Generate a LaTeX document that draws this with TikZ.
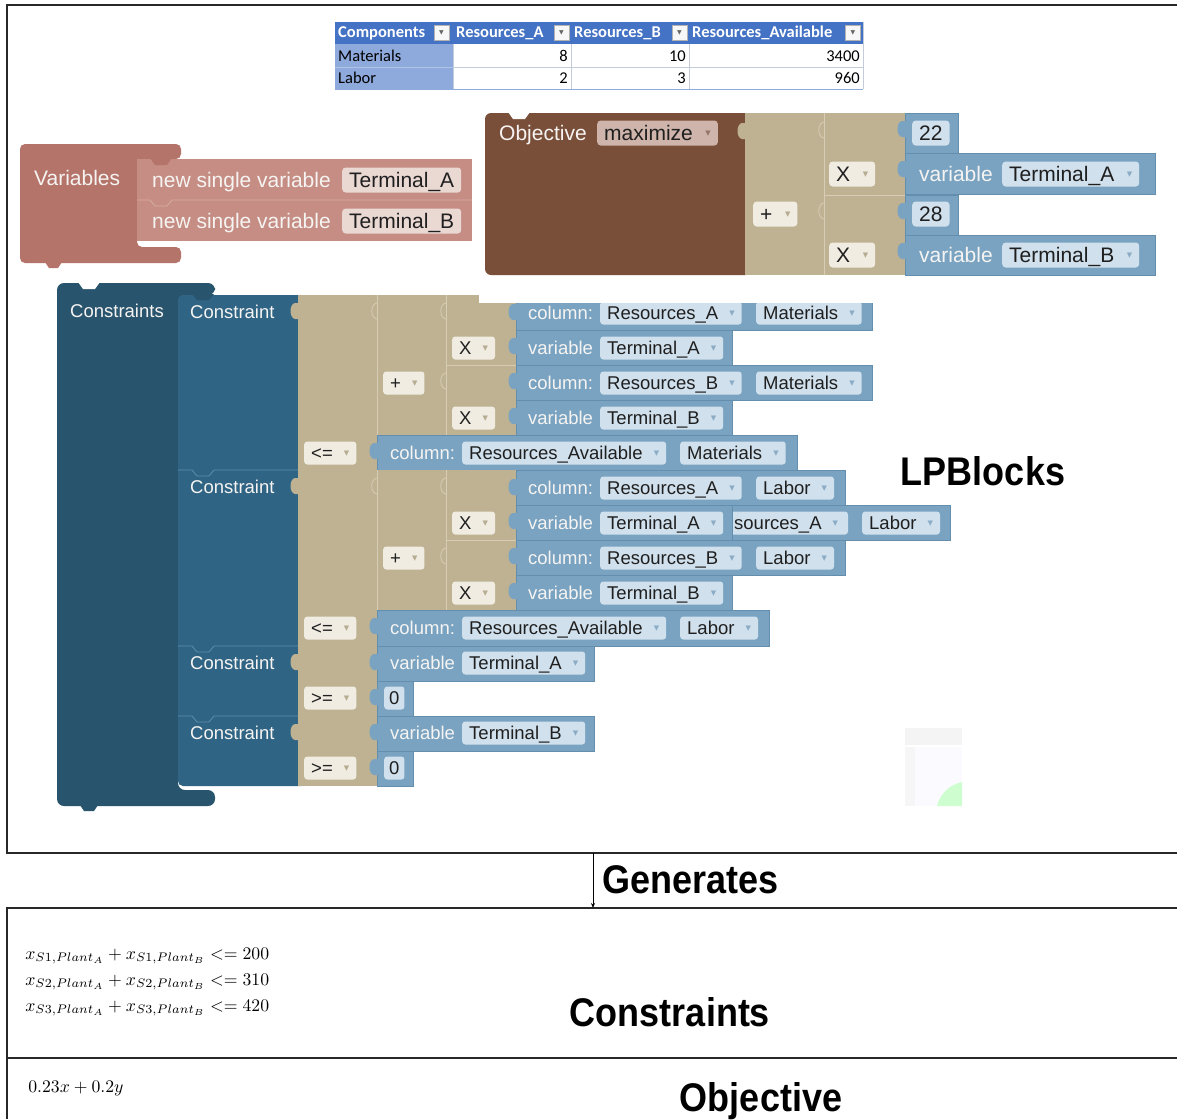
\documentclass[tikz,border=0pt]{standalone}
\usepackage[no-math]{fontspec}
\newfontfamily\blk{Liberation Sans}
\newfontfamily\tbl{Carlito}
\newfontfamily\sym{DejaVu Sans}
\usetikzlibrary{arrows.meta}

\definecolor{frameC}{RGB}{40,40,40}
\definecolor{hdrC}{RGB}{68,114,196}
\definecolor{fcolC}{RGB}{142,169,219}
\definecolor{gridC}{RGB}{196,204,218}
\definecolor{varOut}{RGB}{181,116,106}
\definecolor{varIn}{RGB}{197,141,131}
\definecolor{varFld}{RGB}{234,216,211}
\definecolor{varLn}{RGB}{214,172,164}
\definecolor{objC}{RGB}{122,79,58}
\definecolor{objFld}{RGB}{206,180,170}
\definecolor{tanC}{RGB}{190,178,146}
\definecolor{tanLn}{RGB}{214,205,180}
\definecolor{tanFld}{RGB}{240,236,226}
\definecolor{bluC}{RGB}{121,163,193}
\definecolor{bluEdge}{RGB}{100,142,174}
\definecolor{bluFld}{RGB}{208,224,236}
\definecolor{conC}{RGB}{41,84,109}
\definecolor{cstC}{RGB}{47,100,132}
\definecolor{cstLn}{RGB}{96,142,170}
\definecolor{txtW}{RGB}{246,244,242}
\definecolor{arrT}{RGB}{182,172,146}
\definecolor{arrB}{RGB}{140,172,198}
\definecolor{arrO}{RGB}{150,118,106}

\newcommand\fA{\blk\fontsize{21}{21}\selectfont}
\newcommand\fB{\blk\fontsize{18.5}{18.5}\selectfont}
% dropdown arrow inside a field
\newcommand\ddn[1]{\hspace{0.6em}\raisebox{0.2em}{\sym\fontsize{7}{7}\selectfont\textcolor{#1}{▼}}}
% output tab on the left edge of a block: x, top y, colour
\newcommand\ptab[3]{\fill[#3] (#1+1,#2) -- (#1-3,#2) .. controls (#1-9,#2+1) and (#1-9,#2+15) .. (#1-3,#2+16) -- (#1+1,#2+16) -- cycle;}
% outline of a tab between two blocks of the same colour
\newcommand\ptabln[2]{\draw[tanLn, line width=0.8pt] (#1,#2) .. controls (#1-7,#2+1) and (#1-7,#2+15) .. (#1,#2+16);}

\tikzset{
  x=1pt, y=-1pt,
  frameln/.style={draw=frameC, line width=1.6pt},
  btA/.style={anchor=base west, inner sep=0pt, text=txtW, font=\fA},
  btB/.style={anchor=base west, inner sep=0pt, text=txtW, font=\fB},
  fldA/.style={anchor=west, rounded corners=3.5pt, inner xsep=7pt, inner ysep=0pt,
    minimum height=25pt, text height=15pt, text depth=1pt, text=black!88, font=\fA},
  fldB/.style={anchor=west, rounded corners=3pt, inner xsep=7pt, inner ysep=0pt,
    minimum height=23pt, text height=13.3pt, text depth=1pt, text=black!88, font=\fB},
  blu/.style={fill=bluC, draw=bluEdge, line width=0.7pt},
  sepT/.style={draw=tanLn, line width=0.8pt},
  hdrtxt/.style={anchor=west, inner sep=0pt, text=white, font=\tbl\bfseries\fontsize{16.5}{16.5}\selectfont},
  celltxt/.style={inner sep=0pt, text=black, font=\tbl\fontsize{16.5}{16.5}\selectfont},
  ddbox/.style={draw=black!30, fill=black!3, minimum size=15pt, inner sep=0pt,
    font=\sym\fontsize{6}{6}\selectfont, text=black!60},
  biglbl/.style={inner sep=0pt, font=\blk\bfseries\fontsize{40}{40}\selectfont, xscale=0.9},
  mathln/.style={anchor=west, inner sep=0pt, scale=1.77},
}

\begin{document}
\begin{tikzpicture}
\useasboundingbox (0,0) rectangle (1177,1119);
\fill[white] (0,0) rectangle (1177,1119);

% ---------------- frames and arrow ----------------
\draw[frameln] (1177,5) -- (7,5) -- (7,853) -- (1177,853);
\draw[frameln, line width=2.2pt] (1177,908) -- (7,908) -- (7,1058) -- (1177,1058);
\draw[frameln, line width=2.2pt] (7,1058) -- (7,1119);
\coordinate (genTop) at (593,853);
\coordinate (genBot) at (593,908);
\draw[line width=0.8pt, -{Stealth[length=5pt,width=4pt]}] (genTop) -- (genBot);

% ---------------- data table ----------------
\fill[hdrC] (335,22) rectangle (863,44);
\fill[fcolC] (335,44) rectangle (453,89);
\fill[white] (453,44) rectangle (863,89);
\draw[gridC, line width=0.7pt] (453,44) -- (453,89) (571,44) -- (571,89) (689,44) -- (689,89)
  (453,67) -- (863,67) (863,22) -- (863,89);
\draw[fcolC!70!white, line width=0.7pt] (335,67) -- (453,67);
\draw[fcolC, line width=1pt] (335,89) -- (863,89);
\node[hdrtxt] (hComp) at (338,33) {Components};
\node[hdrtxt] (hResA) at (456,33) {Resources\_A};
\node[hdrtxt] (hResB) at (574,33) {Resources\_B};
\node[hdrtxt] (hAvail) at (692,33) {Resources\_Available};
\node[ddbox] (dd1) at (441.5,33) {▼};
\node[ddbox] (dd2) at (561.5,33) {▼};
\node[ddbox] (dd3) at (679.5,33) {▼};
\node[ddbox] (dd4) at (853,33) {▼};
\node[celltxt, anchor=west] (rMat) at (338,56) {Materials};
\node[celltxt, anchor=west] (rLab) at (338,78) {Labor};
\node[celltxt, anchor=east] (c11) at (568,56) {8};
\node[celltxt, anchor=east] (c12) at (686,56) {10};
\node[celltxt, anchor=east] (c13) at (860,56) {3400};
\node[celltxt, anchor=east] (c21) at (568,78) {2};
\node[celltxt, anchor=east] (c22) at (686,78) {3};
\node[celltxt, anchor=east] (c23) at (860,78) {960};

% ---------------- Variables block ----------------
\fill[varOut, rounded corners=5pt] (20,144) -- (181,144) -- (181,159) -- (137,159) -- (137,247)
  -- (181,247) -- (181,263) -- (20,263) -- cycle;
\fill[varOut] (45,262) -- (49,268) -- (58,268) -- (62,262) -- cycle;
\fill[varIn] (137,159) rectangle (472,241);
\fill[varOut] (150,158) -- (155,165) -- (167,165) -- (172,158) -- cycle;
\draw[varLn, line width=0.8pt] (137,200) -- (150,200) -- (155,206) -- (167,206) -- (172,200) -- (472,200);
\node[btA] (varT) at (34,185.5) {Variables};
\node[btA] (nsv1) at (152,187.5) {new single variable};
\node[btA] (nsv2) at (152,228.5) {new single variable};
\node[fldA, fill=varFld] (varA) at (342,180) {Terminal\_A};
\node[fldA, fill=varFld] (varB) at (342,221) {Terminal\_B};

% ---------------- Objective block ----------------
\fill[objC, rounded corners=6pt] (485,113) rectangle (752,275);
\fill[white] (508,112) -- (513,119) -- (525,119) -- (530,112) -- cycle;
\node[btA] (objT) at (499,140.5) {Objective};
\node[fldA, fill=objFld] (objSense) at (597,133) {maximize\ddn{arrO}};
\fill[tanC] (745,113) rectangle (905,275);
\ptab{745}{123}{tanC}
\draw[sepT] (824,113) -- (824,275) (824,195) -- (905,195);
\ptabln{824}{122}
\ptabln{824}{203}
\node[fldA, fill=tanFld] (objPlus) at (753,214) {+\ddn{arrT}};
\node[fldA, fill=tanFld] (objX1) at (829,174) {X\ddn{arrT}};
\node[fldA, fill=tanFld] (objX2) at (829,255) {X\ddn{arrT}};
\draw[blu] (905,113) rectangle (958,153);
\draw[blu] (905,153.5) rectangle (1155,194);
\draw[blu] (905,195) rectangle (958,235);
\draw[blu] (905,235.5) rectangle (1155,275);
\ptab{905}{121}{bluC}
\ptab{905}{161}{bluC}
\ptab{905}{203}{bluC}
\ptab{905}{243}{bluC}
\node[fldA, fill=bluFld] (c22v) at (912,133) {22};
\node[btA] (ovA) at (919,181.5) {variable};
\node[fldA, fill=bluFld] (ovAf) at (1002,174) {Terminal\_A\ddn{arrB}};
\node[fldA, fill=bluFld] (c28v) at (912,214) {28};
\node[btA] (ovB) at (919,262.5) {variable};
\node[fldA, fill=bluFld] (ovBf) at (1002,255) {Terminal\_B\ddn{arrB}};

% ---------------- Constraints container ----------------
\fill[conC, rounded corners=7pt] (57,283) -- (215,283) -- (215,295) -- (178,295) -- (178,790)
  -- (215,790) -- (215,806) -- (57,806) -- cycle;
\fill[white] (78,282) -- (83,289) -- (95,289) -- (100,282) -- cycle;
\fill[conC] (80,805) -- (84,811) -- (94,811) -- (98,805) -- cycle;
\node[btB] (consT) at (70,317.6) {Constraints};

% four Constraint blocks
\fill[cstC, rounded corners=5pt] (178,295) rectangle (306,786);
\fill[conC] (192,294) -- (197,300) -- (209,300) -- (214,294) -- cycle;
\foreach \yy in {470,646,716}
  \draw[cstLn, line width=0.8pt] (178,\yy) -- (192,\yy) -- (197,\yy+6) -- (209,\yy+6) -- (214,\yy) -- (298,\yy);
\node[btB] (k1) at (190,318.6) {Constraint};
\node[btB] (k2) at (190,493.6) {Constraint};
\node[btB] (k3) at (190,669.6) {Constraint};
\node[btB] (k4) at (190,739.6) {Constraint};

% --- constraint 1: materials ---
\fill[tanC] (298,295) rectangle (516,470);
\ptab{298}{303}{tanC}
\draw[sepT] (377,295) -- (377,435) (446,295) -- (446,435) (446,365) -- (516,365);
\ptabln{377}{303}
\ptabln{446}{303}
\ptabln{446}{373}
\node[fldB, fill=tanFld] (le1) at (304,453) {<=\ddn{arrT}};
\node[fldB, fill=tanFld] (p1) at (383,383) {+\ddn{arrT}};
\node[fldB, fill=tanFld] (x11) at (452,348) {X\ddn{arrT}};
\node[fldB, fill=tanFld] (x12) at (452,418) {X\ddn{arrT}};
\draw[blu] (516,295) rectangle (872,330);
\draw[blu] (516,330) rectangle (732,365);
\draw[blu] (516,365) rectangle (872,400);
\draw[blu] (516,400) rectangle (732,435);
\draw[blu] (377,435) rectangle (797,470);
\ptab{516}{304}{bluC}
\ptab{516}{338}{bluC}
\ptab{516}{373}{bluC}
\ptab{516}{408}{bluC}
\ptab{377}{443}{bluC}
\node[btB] (a1) at (528,319.6) {column:};
\node[fldB, fill=bluFld] (a1r) at (600,313) {Resources\_A\ddn{arrB}};
\node[fldB, fill=bluFld] (a1c) at (756,313) {Materials\ddn{arrB}};
\node[btB] (a2) at (528,354.6) {variable};
\node[fldB, fill=bluFld] (a2v) at (600,348) {Terminal\_A\ddn{arrB}};
\node[btB] (a3) at (528,389.6) {column:};
\node[fldB, fill=bluFld] (a3r) at (600,383) {Resources\_B\ddn{arrB}};
\node[fldB, fill=bluFld] (a3c) at (756,383) {Materials\ddn{arrB}};
\node[btB] (a4) at (528,424.6) {variable};
\node[fldB, fill=bluFld] (a4v) at (600,418) {Terminal\_B\ddn{arrB}};
\node[btB] (a5) at (390,459.6) {column:};
\node[fldB, fill=bluFld] (a5r) at (462,453) {Resources\_Available\ddn{arrB}};
\node[fldB, fill=bluFld] (a5c) at (680,453) {Materials\ddn{arrB}};

% --- constraint 2: labor ---
\fill[tanC] (298,470) rectangle (516,646);
\ptab{298}{478}{tanC}
\draw[sepT] (377,470) -- (377,610) (446,470) -- (446,610) (446,540) -- (516,540);
\ptabln{377}{478}
\ptabln{446}{478}
\ptabln{446}{548}
\node[fldB, fill=tanFld] (le2) at (304,628) {<=\ddn{arrT}};
\node[fldB, fill=tanFld] (p2) at (383,558) {+\ddn{arrT}};
\node[fldB, fill=tanFld] (x21) at (452,523) {X\ddn{arrT}};
\node[fldB, fill=tanFld] (x22) at (452,593) {X\ddn{arrT}};
% loose column block lying behind the variable block; only its right part shows
\draw[blu] (620,505) rectangle (950,540);
\fill[bluFld, rounded corners=3pt] (704,511.5) rectangle (848,534.5);
\node[btB, text=black!88] (lzr) at (734,529.6) {sources\_A\ddn{arrB}};
\node[fldB, fill=bluFld] (lzc) at (862,523) {Labor\ddn{arrB}};
\draw[blu] (516,470) rectangle (845,505);
\draw[blu] (516,505) rectangle (732,540);
\draw[blu] (516,540) rectangle (845,575);
\draw[blu] (516,575) rectangle (732,610);
\draw[blu] (377,610) rectangle (769,646);
\ptab{516}{479}{bluC}
\ptab{516}{513}{bluC}
\ptab{516}{548}{bluC}
\ptab{516}{583}{bluC}
\ptab{377}{618}{bluC}
\node[btB] (b1) at (528,494.6) {column:};
\node[fldB, fill=bluFld] (b1r) at (600,488) {Resources\_A\ddn{arrB}};
\node[fldB, fill=bluFld] (b1c) at (756,488) {Labor\ddn{arrB}};
\node[btB] (b2) at (528,529.6) {variable};
\node[fldB, fill=bluFld] (b2v) at (600,523) {Terminal\_A\ddn{arrB}};
\node[btB] (b3) at (528,564.6) {column:};
\node[fldB, fill=bluFld] (b3r) at (600,558) {Resources\_B\ddn{arrB}};
\node[fldB, fill=bluFld] (b3c) at (756,558) {Labor\ddn{arrB}};
\node[btB] (b4) at (528,599.6) {variable};
\node[fldB, fill=bluFld] (b4v) at (600,593) {Terminal\_B\ddn{arrB}};
\node[btB] (b5) at (390,634.6) {column:};
\node[fldB, fill=bluFld] (b5r) at (462,628) {Resources\_Available\ddn{arrB}};
\node[fldB, fill=bluFld] (b5c) at (680,628) {Labor\ddn{arrB}};

% --- constraint 3: Terminal_A >= 0 ---
\fill[tanC] (298,646) rectangle (377,716);
\ptab{298}{654}{tanC}
\node[fldB, fill=tanFld] (ge3) at (304,698) {>=\ddn{arrT}};
\draw[blu] (377,646) rectangle (594,681);
\draw[blu] (377,681) rectangle (413,716);
\ptab{377}{654}{bluC}
\ptab{377}{689}{bluC}
\node[btB] (g3) at (390,669.6) {variable};
\node[fldB, fill=bluFld] (g3v) at (462,663) {Terminal\_A\ddn{arrB}};
\node[fldB, fill=bluFld, inner xsep=5pt] (z3) at (384,698) {0};

% --- constraint 4: Terminal_B >= 0 ---
\fill[tanC] (298,716) rectangle (377,786);
\ptab{298}{724}{tanC}
\node[fldB, fill=tanFld] (ge4) at (304,768) {>=\ddn{arrT}};
\draw[blu] (377,716) rectangle (594,751);
\draw[blu] (377,751) rectangle (413,786);
\ptab{377}{724}{bluC}
\ptab{377}{759}{bluC}
\node[btB] (g4) at (390,739.6) {variable};
\node[fldB, fill=bluFld] (g4v) at (462,733) {Terminal\_B\ddn{arrB}};
\node[fldB, fill=bluFld, inner xsep=5pt] (z4) at (384,768) {0};

% cropped top edge of the workspace
\fill[white] (479,280) rectangle (1177,303);

% faint window thumbnail
\fill[gray!9] (905,728) rectangle (962,745);
\fill[blue!2] (905,747) rectangle (962,806);
\fill[gray!7] (905,747) rectangle (915,806);
\fill[green!30!white, opacity=0.6] (962,782) .. controls (948,785) and (940,795) .. (937,806) -- (962,806) -- cycle;

\node[biglbl] (lpb) at (983,471) {LPBlocks};

% ---------------- generated model ----------------
\node[biglbl, anchor=west] (gen) at (602,880) {Generates};
\node[mathln] (m1) at (25,956) {$x_{S1,Plant_A}+x_{S1,Plant_B}<=200$};
\node[mathln] (m2) at (25,982) {$x_{S2,Plant_A}+x_{S2,Plant_B}<=310$};
\node[mathln] (m3) at (25,1008) {$x_{S3,Plant_A}+x_{S3,Plant_B}<=420$};
\node[biglbl] (cons) at (670,1012) {Constraints};
\node[mathln] (m4) at (28,1089) {$0.23x+0.2y$};
\node[biglbl] (obj) at (761,1101) {Objective};
\end{tikzpicture}
\end{document}
